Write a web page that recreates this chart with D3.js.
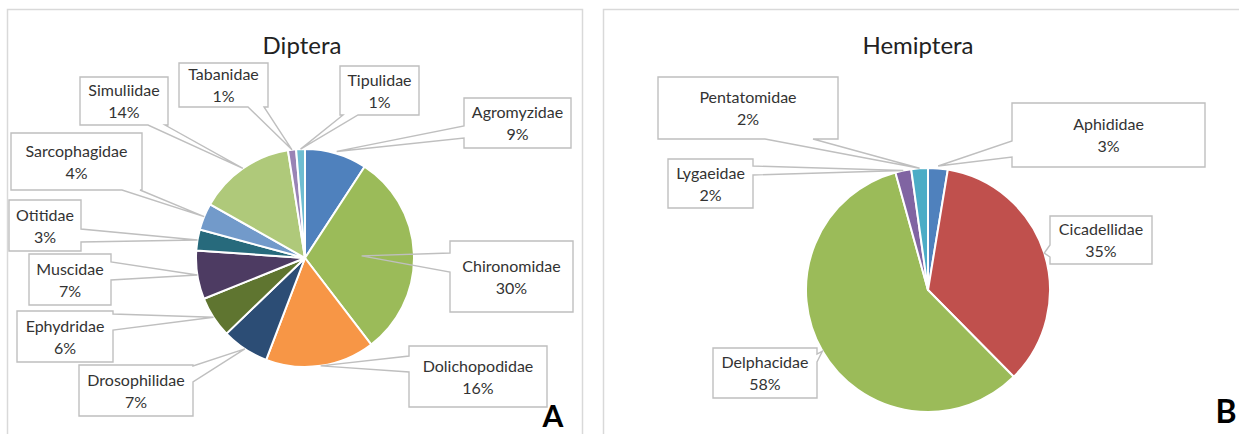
<!DOCTYPE html>
<html lang="en">
<head>
    <meta charset="UTF-8">
    <title>Diptera / Hemiptera</title>
    <style>
        body { margin: 0; background: #fff; }
        svg text { font-family: Lato, "Open Sans", sans-serif; fill: #333; }
    </style>
</head>
<body>

<svg id="chart"></svg>

<script src="https://cdn.jsdelivr.net/npm/d3@7/dist/d3.min.js"></script>

<script>

    // Diptera families, share of catch (%)
    var dipteraFamilies = ["Agromyzidae", "Chironomidae", "Dolichopodidae", "Drosophilidae", "Ephydridae",
        "Muscidae", "Otitidae", "Sarcophagidae", "Simuliidae", "Tabanidae", "Tipulidae"];
    var dipteraValues = [9.2, 30.4, 16.2, 7.0, 6.1, 7.2, 3.1, 4.0, 14.3, 1.2, 1.3];
    var dipteraColors = ["#4F81BD", "#9BBB59", "#F79646", "#2C4D75", "#5F7530",
        "#4D3B62", "#276A7C", "#729ACA", "#AFC97A", "#9983B5", "#6FBDD1"];

    // Hemiptera families, share of catch (%)
    var hemipteraFamilies = ["Aphididae", "Cicadellidae", "Delphacidae", "Lygaeidae", "Pentatomidae"];
    var hemipteraValues = [2.6, 35.0, 58.1, 2.1, 2.2];
    var hemipteraColors = ["#4F81BD", "#C0504D", "#9BBB59", "#8064A2", "#4BACC6"];

    // callout boxes: x0, y0, x1, y1, side the pointer leaves from, pointer base, tip radius factor
    var dipteraCallouts = [
        [464, 98, 571, 148, "left", 126, 138, 1.02],
        [450, 241, 573, 312, "left", 253, 272, 0.52],
        [409, 346, 547, 407, "left", 356, 372, 1.0],
        [79, 365, 193, 416, "right", 366, 382, 1.0],
        [17, 311, 113, 362, "right", 314, 330, 1.0],
        [29, 254, 111, 305, "right", 262, 280, 1.0],
        [9, 200, 81, 251, "right", 229, 242, 1.0],
        [11, 133, 142, 190, "bottom", 122, 140, 1.0],
        [80, 77, 168, 125, "bottom", 148, 165, 1.0],
        [179, 63, 268, 107, "bottom", 248, 264, 1.0],
        [340, 66, 419, 115, "bottom", 343, 358, 1.0]
    ];
    var hemipteraCallouts = [
        [1012, 103, 1205, 167, "left", 141, 157, 1.02],
        [1050, 216, 1152, 264, "left", 245, 257, 1.0],
        [713, 348, 817, 398, "right", 354, 362, 1.0],
        [668, 159, 753, 208, "right", 166, 175, 1.0],
        [658, 77, 838, 139, "bottom", 765, 813, 1.0]
    ];

    var width = 1239, height = 434;

    var svg = d3.select("#chart")
            .attr("width", width)
            .attr("height", height);

    // panel frames (bottom and far right fall outside the picture)
    svg.append("path")
            .attr("d", "M7.5,440V9.5H582.5V440")
            .attr("fill", "none").attr("stroke", "#D9D9D9").attr("stroke-width", 1.5);
    svg.append("path")
            .attr("d", "M603.5,440V9.5H1250")
            .attr("fill", "none").attr("stroke", "#D9D9D9").attr("stroke-width", 1.5);

    var pct = d3.format(".0%");

    function calloutPath(b, tip) {
        var x0 = b[0], y0 = b[1], x1 = b[2], y1 = b[3], side = b[4], lo = b[5], hi = b[6];
        var t = tip[0] + "," + tip[1];
        var p = "M" + x0 + "," + y0;
        if (side === "top") p += "H" + lo + "L" + t + "L" + hi + "," + y0;
        p += "H" + x1;
        if (side === "right") p += "V" + lo + "L" + t + "L" + x1 + "," + hi;
        p += "V" + y1;
        if (side === "bottom") p += "H" + hi + "L" + t + "L" + lo + "," + y1;
        p += "H" + x0;
        if (side === "left") p += "V" + hi + "L" + t + "L" + x0 + "," + lo;
        return p + "Z";
    }

    function drawPie(opt) {
        var data = opt.families.map(function (f, i) {
            return {name: f, value: opt.values[i], color: opt.colors[i]};
        });
        var total = d3.sum(opt.values);

        var pie = d3.pie().sort(null).value(function (d) { return d.value; });
        var arc = d3.arc().innerRadius(0).outerRadius(opt.r);
        var arcs = pie(data);

        var g = svg.append("g").attr("transform", "translate(" + opt.cx + "," + opt.cy + ")");

        g.selectAll("path.slice")
                .data(arcs)
                .enter()
                .append("path")
                .attr("class", "slice")
                .attr("d", arc)
                .attr("fill", function (d) { return d.data.color; })
                .attr("stroke", "#fff")
                .attr("stroke-width", 2)
                .attr("stroke-linejoin", "round");

        svg.append("text")
                .attr("x", opt.titleX)
                .attr("y", 54)
                .attr("text-anchor", "middle")
                .style("font-size", "24px")
                .style("fill", "#222")
                .text(opt.title);

        var lab = svg.selectAll("g.lab-" + opt.title)
                .data(arcs)
                .enter()
                .append("g")
                .attr("class", "lab-" + opt.title);

        lab.append("path")
                .attr("d", function (d, i) {
                    var b = opt.callouts[i];
                    var rr = opt.r * b[7];
                    var c = d3.arc().innerRadius(rr).outerRadius(rr).centroid(d);
                    return calloutPath(b, [opt.cx + c[0], opt.cy + c[1]]);
                })
                .attr("fill", "none")
                .attr("stroke", "#BFBFBF")
                .attr("stroke-width", 1.4);

        var txt = lab.append("text")
                .attr("text-anchor", "middle")
                .style("font-size", "16px");
        txt.append("tspan")
                .attr("x", function (d, i) { return (opt.callouts[i][0] + opt.callouts[i][2]) / 2; })
                .attr("y", function (d, i) { return (opt.callouts[i][1] + opt.callouts[i][3]) / 2 - 5; })
                .text(function (d) { return d.data.name; });
        txt.append("tspan")
                .attr("x", function (d, i) { return (opt.callouts[i][0] + opt.callouts[i][2]) / 2; })
                .attr("y", function (d, i) { return (opt.callouts[i][1] + opt.callouts[i][3]) / 2 + 17; })
                .text(function (d) { return pct(d.data.value / total); });
    }

    drawPie({
        title: "Diptera", titleX: 302,
        families: dipteraFamilies, values: dipteraValues, colors: dipteraColors,
        cx: 305, cy: 258, r: 109, callouts: dipteraCallouts
    });

    drawPie({
        title: "Hemiptera", titleX: 918,
        families: hemipteraFamilies, values: hemipteraValues, colors: hemipteraColors,
        cx: 928, cy: 290, r: 122, callouts: hemipteraCallouts
    });

    // panel letters
    svg.append("text").attr("x", 553).attr("y", 427).attr("text-anchor", "middle")
            .style("font-size", "30px").style("font-weight", "bold").style("fill", "#000").text("A");
    svg.append("text").attr("x", 1226).attr("y", 423).attr("text-anchor", "middle")
            .style("font-size", "32px").style("font-weight", "bold").style("fill", "#000").text("B");

</script>

</body>
</html>
